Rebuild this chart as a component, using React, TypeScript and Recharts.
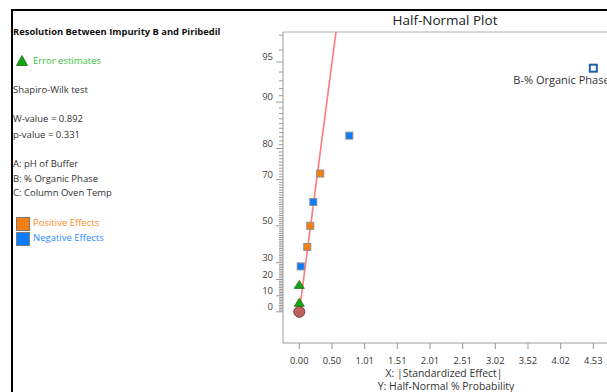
import { ComposedChart, XAxis, YAxis, Scatter, Line, ReferenceLine } from "recharts"

// half-normal plot: |effect| vs half-normal % probability
const ORIGIN_X = [0]
const ORIGIN_P = [0]
const ERROR_X = [0.0, 0.0]
const ERROR_P = [5.6, 16.7]
const POSITIVE_X = [0.123, 0.169, 0.323]
const POSITIVE_P = [38.9, 50.0, 72.2]
const NEGATIVE_X = [0.022, 0.216, 0.77]
const NEGATIVE_P = [27.8, 61.1, 83.3]
const LABELED_X = [4.526]
const LABELED_P = [94.4]
const LABELED_NAME = ["B-% Organic Phase"]
const FIT_X = [0.012, 0.62]
const FIT_P = [3.6, 98.4]

const X_TICKS = [0, 0.5029, 1.0058, 1.5087, 2.0116, 2.5145, 3.0174, 3.5203, 4.0232, 4.5261]
const Y_MAJOR = [0, 10, 20, 30, 50, 70, 80, 90, 95]
const Y_MINOR = Array.from({ length: 98 }, (_, i) => i)

const FONT = "'Open Sans', 'Noto Sans', sans-serif"
const AXIS = "#9a9a9a"

// inverse normal cdf (Acklam)
function probit(p: number) {
    const a = [-39.69683028665376, 220.9460984245205, -275.9285104469687, 138.357751867269, -30.66479806614716, 2.506628277459239]
    const b = [-54.47609879822406, 161.5858368580409, -155.6989798598866, 66.80131188771972, -13.28068155288572]
    const c = [-0.007784894002430293, -0.3223964580411365, -2.400758277161838, -2.549732539343734, 4.374664141464968, 2.938163982698783]
    const d = [0.007784695709041462, 0.3224671290700398, 2.445134137142996, 3.754408661907416]
    const lo = 0.02425
    if (p < lo) {
        const q = Math.sqrt(-2 * Math.log(p))
        return (((((c[0] * q + c[1]) * q + c[2]) * q + c[3]) * q + c[4]) * q + c[5]) / ((((d[0] * q + d[1]) * q + d[2]) * q + d[3]) * q + 1)
    }
    if (p <= 1 - lo) {
        const q = p - 0.5
        const r = q * q
        return (((((a[0] * r + a[1]) * r + a[2]) * r + a[3]) * r + a[4]) * r + a[5]) * q / (((((b[0] * r + b[1]) * r + b[2]) * r + b[3]) * r + b[4]) * r + 1)
    }
    const q = Math.sqrt(-2 * Math.log(1 - p))
    return -(((((c[0] * q + c[1]) * q + c[2]) * q + c[3]) * q + c[4]) * q + c[5]) / ((((d[0] * q + d[1]) * q + d[2]) * q + d[3]) * q + 1)
}
const halfNormal = (pct: number) => probit(0.5 + pct / 200)

const rows = (xs: number[], ps: number[]) => xs.map((x, i) => ({ x, q: halfNormal(ps[i]) }))

function YTick(props: any) {
    const { x, y, payload } = props
    const pct = Y_MINOR.find(p => Math.abs(halfNormal(p) - payload.value) < 1e-6)
    const major = pct !== undefined && Y_MAJOR.includes(pct)
    return (
        <g>
            <line x1={x - (major ? 7 : 4)} x2={x} y1={y} y2={y} stroke={AXIS} strokeWidth={1} />
            {major && <text x={x - 10} y={y - 5} dy="0.35em" textAnchor="end" fontSize={9.5} fill="#444" fontFamily={FONT}>{pct}</text>}
        </g>
    )
}

const Square = (color: string) => (p: any) => (
    <rect x={p.cx - 3.5} y={p.cy - 3.5} width={7} height={7} fill={color} stroke="#8c8c8c" strokeWidth={1} />
)
const Triangle = (p: any) => (
    <polygon points={`${p.cx},${p.cy - 4.5} ${p.cx + 5},${p.cy + 3.5} ${p.cx - 5},${p.cy + 3.5}`} fill="#16a316" stroke="#1c6e1c" strokeWidth={0.8} />
)
const Origin = (p: any) => <circle cx={p.cx} cy={p.cy} r={5.5} fill="#c0605e" stroke="#7d3d3d" strokeWidth={1} />
const Labeled = (p: any) => (
    <g>
        <rect x={p.cx - 3.5} y={p.cy - 3.5} width={7} height={7} fill="#fff" stroke="#1f5fa8" strokeWidth={2} />
        <text x={p.cx - 80} y={p.cy + 12} dy="0.35em" fontSize={11} fill="#333" fontFamily={FONT}>{LABELED_NAME[p.index] ?? LABELED_NAME[0]}</text>
    </g>
)

const SIDE = [
    { text: "Shapiro-Wilk test", y: 90 },
    { text: "W-value = 0.892", y: 119 },
    { text: "p-value = 0.331", y: 135 },
    { text: "A: pH of Buffer", y: 164 },
    { text: "B: % Organic Phase", y: 179 },
    { text: "C: Column Oven Temp", y: 193 },
]

function Txt({ x, y, children, style }: { x: number; y: number; children: any; style?: any }) {
    return <div style={{ position: "absolute", left: x, top: y - 7, lineHeight: "14px", fontSize: 9.5, color: "#333", whiteSpace: "nowrap", ...style }}>{children}</div>
}

export default function App() {
    return (
        <div style={{ position: "fixed", left: 0, top: 0, width: 607, height: 392, overflow: "hidden", background: "#fff", fontFamily: FONT }}>
            <div style={{ position: "absolute", left: 11, top: 9, width: 700, height: 500, borderLeft: "2px solid #000", borderTop: "2px solid #000" }} />

            {/* side panel */}
            <Txt x={13} y={32} style={{ fontWeight: 700, fontSize: 9.4, color: "#111" }}>Resolution Between Impurity B and Piribedil</Txt>
            <svg style={{ position: "absolute", left: 16, top: 55 }} width={12} height={11}>
                <polygon points="6,0.5 11.5,10.5 0.5,10.5" fill="#16a316" stroke="#1c6e1c" strokeWidth={0.8} />
            </svg>
            <Txt x={33} y={61} style={{ color: "#3cc43c" }}>Error estimates</Txt>
            {SIDE.map(s => <Txt key={s.text} x={13} y={s.y}>{s.text}</Txt>)}
            <div style={{ position: "absolute", left: 16, top: 217, width: 12, height: 12, background: "#f77f0f", border: "1px solid #7a7a7a" }} />
            <Txt x={33} y={223} style={{ color: "#ff8c1a" }}>Positive Effects</Txt>
            <div style={{ position: "absolute", left: 16, top: 232, width: 12, height: 12, background: "#0a7dff", border: "1px solid #7a7a7a" }} />
            <Txt x={33} y={238} style={{ color: "#2a8cff" }}>Negative Effects</Txt>

            {/* titles */}
            <div style={{ position: "absolute", left: 345, width: 200, top: 11, textAlign: "center", fontSize: 13.5, lineHeight: "18px", color: "#222" }}>Half-Normal Plot</div>
            <div style={{ position: "absolute", left: 344, width: 200, top: 368, textAlign: "center", fontSize: 10.4, lineHeight: "11px", color: "#333" }}>X: |Standardized Effect|</div>
            <div style={{ position: "absolute", left: 346, width: 200, top: 381, textAlign: "center", fontSize: 10.4, lineHeight: "11px", color: "#333" }}>Y: Half-Normal % Probability</div>

            <div style={{ position: "absolute", left: 0, top: 0 }}>
                <ComposedChart width={660} height={392} margin={{ top: 32, right: 40, left: 253, bottom: 19 }}>
                    <XAxis
                        type="number" dataKey="x" domain={[-0.2509, 4.937]} ticks={X_TICKS} interval={0}
                        tickFormatter={(v: number) => v.toFixed(2)} height={30}
                        axisLine={{ stroke: AXIS }} tickLine={{ stroke: AXIS }} tickSize={6} tickMargin={8}
                        tick={{ fontSize: 9.3, fill: "#333", fontFamily: FONT }} allowDataOverflow
                    />
                    <YAxis
                        type="number" dataKey="q" domain={[-0.245, 2.195]} ticks={Y_MINOR.map(halfNormal)} interval={0}
                        width={30} axisLine={{ stroke: AXIS }} tickLine={false} tickSize={0} tickMargin={0}
                        tick={<YTick />} allowDataOverflow
                    />
                    <ReferenceLine y={2.195} stroke="#b0b0b0" strokeWidth={1} />
                    <Line data={rows(FIT_X, FIT_P)} dataKey="q" stroke="#ff7a7a" strokeWidth={1.6} dot={false} isAnimationActive={false} />
                    <Scatter data={rows(ORIGIN_X, ORIGIN_P)} dataKey="q" shape={Origin} isAnimationActive={false} />
                    <Scatter data={rows(ERROR_X, ERROR_P)} dataKey="q" shape={Triangle} isAnimationActive={false} />
                    <Scatter data={rows(POSITIVE_X, POSITIVE_P)} dataKey="q" shape={Square("#f77f0f")} isAnimationActive={false} />
                    <Scatter data={rows(NEGATIVE_X, NEGATIVE_P)} dataKey="q" shape={Square("#0a7dff")} isAnimationActive={false} />
                    <Scatter data={rows(LABELED_X, LABELED_P)} dataKey="q" shape={Labeled} isAnimationActive={false} />
                </ComposedChart>
            </div>
        </div>
    )
}
